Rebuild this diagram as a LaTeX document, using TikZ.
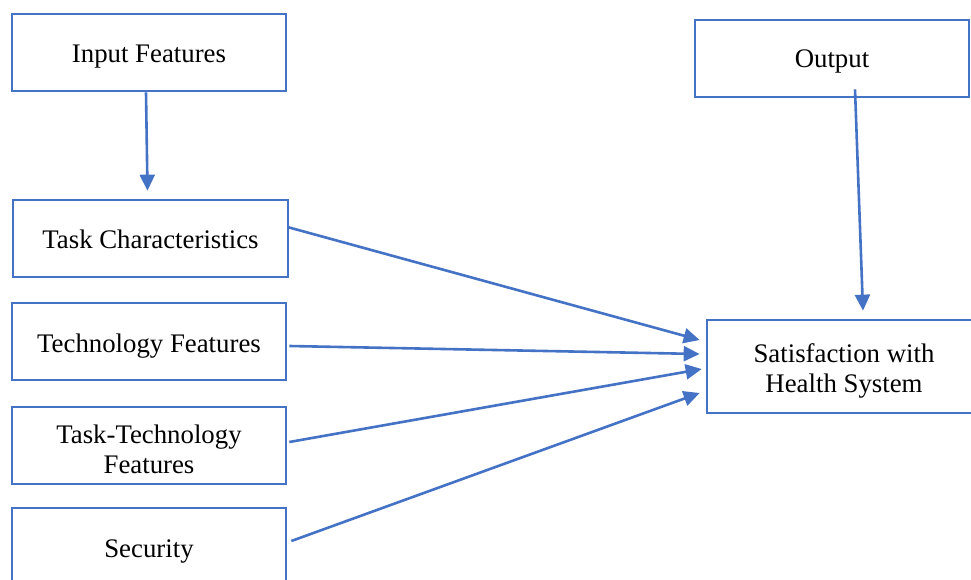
\documentclass[tikz,border=0pt]{standalone}
\usepackage{fontspec}
\setmainfont{Liberation Serif}
\usetikzlibrary{arrows.meta}
\definecolor{bblue}{HTML}{4472C4}
\begin{document}
\begin{tikzpicture}[x=1pt,y=-1pt,
  box/.style={draw=bblue,line width=2.7pt,rectangle,minimum width=274pt,minimum height=77pt,inner sep=0pt},
  txt/.style={anchor=base,inner sep=0pt,font=\fontsize{26.8}{30}\selectfont,text=black},
  conn/.style={draw=bblue,line width=2.6pt,-{Triangle[length=16pt,width=15pt]}}]
\useasboundingbox (0,0) rectangle (971,580);
\fill[white] (0,0) rectangle (971,580);
\node[box] (in) at (149,52.5) {};
\node[box,minimum width=275pt] (task) at (150.5,238.5) {};
\node[box] (tech) at (149,341.5) {};
\node[box] (tt) at (149,445.5) {};
\node[box] (sec) at (149,546.5) {};
\node[box] (out) at (832,58.5) {};
\node[box,minimum width=268pt,minimum height=93pt] (sat) at (841,366.5) {};
\node[txt] (inT) at ([yshift=-10.5pt]in.center) {Input Features};
\node[txt] (taskT) at ([yshift=-9.5pt]task.center) {Task Characteristics};
\node[txt] (techT) at ([yshift=-10.5pt]tech.center) {Technology Features};
\node[txt] (ttT1) at ([yshift=2.5pt]tt.center) {Task-Technology};
\node[txt] (ttT2) at ([yshift=-27.5pt]tt.center) {Features};
\node[txt] (secT) at ([yshift=-10.5pt]sec.center) {Security};
\node[txt] (outT) at ([yshift=-9.5pt]out.center) {Output};
\node[txt] (satT1) at ([xshift=3pt,yshift=4.5pt]sat.center) {Satisfaction with};
\node[txt] (satT2) at ([xshift=3pt,yshift=-25.5pt]sat.center) {Health System};
\draw[conn] ([xshift=-3pt]in.south) -- ([xshift=-3pt,yshift=8pt]task.north);
\draw[conn] ([xshift=23pt,yshift=9pt]out.south) -- ([xshift=22pt,yshift=8pt]sat.north);
\draw[conn] ([xshift=-2pt,yshift=11.5pt]task.east) -- ([xshift=-6pt,yshift=26.5pt]sat.west);
\draw[conn] ([xshift=2pt,yshift=-4.5pt]tech.east) -- ([xshift=-6pt,yshift=12.5pt]sat.west);
\draw[conn] ([xshift=2pt,yshift=3.5pt]tt.east) -- ([xshift=-4pt,yshift=-2.5pt]sat.west);
\draw[conn] ([xshift=4pt,yshift=5.5pt]sec.east) -- ([xshift=-6pt,yshift=-26.5pt]sat.west);
\end{tikzpicture}
\end{document}
